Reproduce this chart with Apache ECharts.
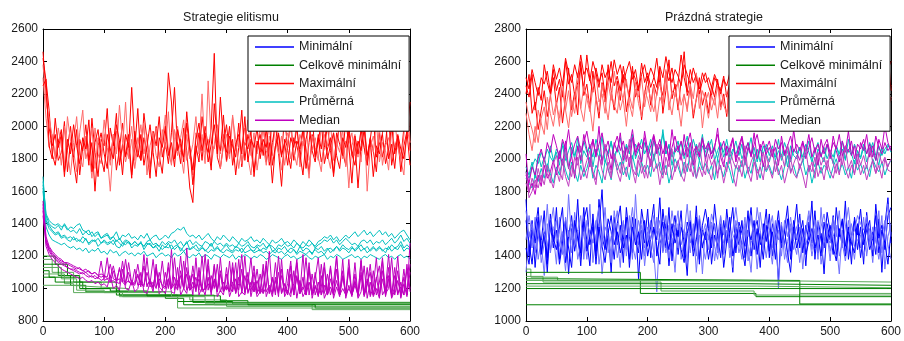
<!DOCTYPE html>
<html><head><meta charset="utf-8">
<script src="https://cdn.jsdelivr.net/npm/echarts@6/dist/echarts.min.js"></script>
<style>html,body{margin:0;padding:0;background:#fff}#c{width:904px;height:341px}</style>
</head><body><div id="c"></div>
<script>
// ---- titles / legend / ticks ----
const titles = ['Strategie elitismu', 'Prázdná strategie'];
const legendNames = ['Minimální', 'Celkově minimální', 'Maximální', 'Průměrná', 'Median'];
const xTicks = {min: 0, max: 600, interval: 100};
const yTicksLeft = {min: 800, max: 2600, interval: 200};
const yTicksRight = {min: 1000, max: 2800, interval: 200};

// ---- left chart (Strategie elitismu), values sampled every 5 generations ----
const L_max1 = [2460,2200,1990,1880,1950,1790,1840,2030,1720,1900, 1810,1980,1700,1870,1930,1760,2050,1840,1690,1920, 1880,2110,1790,1950,1730,1860,2020,1810,1900,1680, 1970,1840,1790,2080,1920,1750,1880,2000,1820,1710, 1940,2330,2150,1800,1900,1770,1990,1850,1620,1530, 1880,1780,2060,1900,1840,1990,2450,1810,1740,1890, 2010,1830,1920,1700,1870,2100,1790,1950,1860,1720, 1910,1840,2030,1780,1900,1650,1880,1960,1810,2070, 1850,1740,1930,1880,1790,2000,1860,1710,1950,1820, 1900,2040,1770,1860,1930,1690,1880,2010,1840,1760, 1970,1820,1900,1620,1880,2050,1790,1930,1850,1720, 1960,1810,1900,2080,1760,1870,1940,1800,1990,2250, 1850];
const L_max2 = [2300,2050,1870,1950,1800,1920,1760,2000,1850,1700, 1900,2060,1820,1750,1940,1860,1680,1990,1830,1770, 1950,1820,1600,1890,1970,1780,1860,2150,1800,1920, 1740,1880,2010,1830,1950,1720,1870,1990,1800,1910, 2070,1850,1760,1980,1820,1930,2040,1790,1880,1700, 1960,1870,2200,1840,1920,1760,1890,2010,1830,1950, 1780,1870,2060,1920,1740,1880,1990,1810,1700,1900, 1830,2000,1880,1760,1940,1820,2090,1870,1730,1900, 1960,1800,1880,2020,1750,1910,1850,1680,1940,1870, 1790,2010,1900,1830,1740,1960,1850,2070,1800,1910, 1620,1880,1950,1810,1990,1870,1760,1920,1840,2030, 1780,1900,1850,1730,1980,1870,1920,1790,1700,1990, 1900];
const L_max3 = [2420,2280,2100,1830,1760,1900,1980,1720,1870,2000, 1780,1650,1920,1850,2010,1790,1900,1600,1880,1960, 1830,1740,1990,1880,2080,1760,1890,1820,1950,1700, 1860,2110,1790,1930,1840,1680,1970,1880,2060,1810, 1900,1770,1960,2240,1850,1920,1780,2090,1870,1640, 1830,1960,1790,2000,1880,1730,2140,1910,1850,2070, 1790,1940,1880,1810,2020,1750,1900,1860,1970,1690, 1880,1950,1820,1990,1760,1900,2010,1840,1630,1920, 1870,2050,1790,1910,1860,1980,1740,1900,2080,1810, 1930,1780,1870,2000,1850,1710,1960,1890,1820,2040, 1880,1650,1940,1830,1980,1870,1760,1920,2060,1810, 1890,1950,1770,1860,2010,1830,1940,1720,1880,1970, 1760];
const L_max4 = [2380,2150,2050,1940,1820,1990,1870,1760,2060,1910, 1850,1720,1960,2100,1800,1880,1990,1740,1930,1820, 2040,1870,1760,1950,1830,2130,1900,1780,1860,2000, 1790,1930,1850,2020,1700,1880,1960,1820,1750,1980, 1860,2090,1780,1920,2000,1840,1710,1950,1800,1890, 2060,1830,1950,1770,2280,1900,1860,1990,1740,1880, 1950,1800,2070,1850,1930,1770,1890,2040,1820,1960, 1730,1880,1990,1850,1780,2060,1910,1830,1940,1760, 1900,1990,1840,1760,1950,1880,2030,1790,1860,1930, 1810,1720,1950,1880,2020,1790,1900,1840,1980,1750, 1890,1960,1820,1900,1780,2050,1600,1870,1940,1830, 1990,1760,1880,1930,1820,2040,1870,1790,1940,2320, 1900];
const L_max5 = [2250,2290,1880,1800,2050,1870,1950,1690,1920,1830, 2010,1880,1770,1930,1860,2040,1720,1900,1980,1810, 1720,1950,1860,1800,2010,1910,1700,1950,1870,2240, 1900,1810,1950,1760,1880,2010,1840,1690,1930,1870, 2000,1820,1900,1750,1980,1880,1810,2020,1860,1730, 1920,2020,1850,1960,1780,1890,2010,1830,2180,1900, 1840,2000,1760,1890,1950,1830,2060,1780,1920,1870, 1990,1800,1920,1870,2040,1760,1880,1950,1820,1900, 1760,1930,1870,1990,1830,1700,1920,2010,1850,1780, 1950,1860,2030,1800,1880,1960,1820,1740,1930,1870, 2000,1830,1760,1910,1850,1980,1820,1920,1690,1880, 1830,1960,2050,1800,1890,1740,1950,1860,1800,1950, 2150];
const L_avg1 = [1690,1420,1370,1350,1330,1340,1310,1320,1300,1290, 1320,1290,1300,1280,1310,1270,1290,1300,1260,1280, 1290,1270,1280,1300,1260,1250,1280,1270,1290,1250, 1270,1260,1290,1240,1270,1280,1250,1260,1230,1270, 1250,1280,1240,1260,1270,1230,1260,1290,1240,1250, 1270,1240,1260,1230,1250,1280,1240,1260,1230,1250, 1270,1240,1230,1260,1250,1220,1250,1270,1240,1230, 1260,1230,1250,1240,1270,1230,1220,1250,1240,1260, 1230,1250,1240,1220,1260,1230,1250,1240,1210,1250, 1240,1260,1230,1250,1220,1240,1260,1230,1250,1240, 1220,1250,1240,1260,1230,1250,1220,1240,1260,1230, 1250,1240,1220,1260,1230,1250,1240,1270,1230,1250, 1240];
const L_avg2 = [1640,1450,1400,1380,1370,1390,1360,1400,1370,1350, 1360,1340,1370,1330,1350,1360,1320,1340,1350,1310, 1330,1340,1310,1320,1350,1300,1330,1320,1340,1310, 1320,1300,1330,1310,1340,1300,1320,1330,1300,1310, 1330,1310,1340,1350,1370,1360,1380,1340,1320,1330, 1310,1330,1300,1320,1340,1310,1290,1320,1300,1330, 1310,1290,1320,1300,1280,1310,1290,1300,1320,1290, 1300,1280,1310,1290,1270,1300,1280,1290,1310,1280, 1290,1270,1300,1280,1260,1290,1270,1300,1280,1260, 1290,1300,1320,1310,1330,1300,1320,1290,1310,1330, 1310,1330,1350,1320,1340,1360,1330,1350,1320,1340, 1360,1330,1350,1320,1340,1310,1330,1350,1360,1330, 1300];
const L_avg3 = [1600,1380,1330,1300,1290,1280,1270,1280,1260,1250, 1260,1240,1250,1230,1250,1220,1240,1230,1250,1220, 1230,1210,1240,1220,1230,1200,1220,1230,1210,1220, 1200,1220,1210,1230,1200,1210,1220,1190,1210,1220, 1200,1210,1190,1220,1200,1210,1230,1200,1190,1210, 1200,1220,1190,1210,1200,1180,1210,1200,1190,1210, 1200,1190,1210,1180,1200,1190,1210,1200,1180,1200, 1190,1210,1200,1180,1190,1210,1200,1190,1180,1200, 1210,1190,1200,1180,1190,1200,1210,1190,1180,1200, 1190,1200,1210,1180,1200,1190,1210,1200,1180,1190, 1200,1210,1190,1200,1180,1200,1190,1210,1200,1190, 1180,1200,1210,1190,1200,1180,1200,1210,1190,1200, 1180];
const L_avg4 = [1620,1420,1390,1360,1340,1350,1320,1330,1310,1320, 1300,1310,1290,1320,1300,1280,1300,1290,1310,1280, 1300,1280,1290,1270,1300,1280,1260,1290,1280,1270, 1290,1270,1280,1260,1290,1300,1270,1280,1260,1290, 1270,1290,1280,1300,1270,1290,1260,1280,1300,1270, 1290,1270,1260,1290,1280,1260,1290,1270,1280,1260, 1280,1260,1270,1250,1280,1260,1270,1290,1260,1250, 1270,1260,1280,1250,1270,1260,1240,1270,1260,1280, 1260,1270,1250,1280,1260,1250,1270,1260,1280,1250, 1270,1280,1300,1290,1310,1280,1300,1270,1290,1310, 1290,1270,1280,1260,1290,1300,1280,1300,1270,1290, 1280,1300,1270,1290,1310,1280,1300,1330,1290,1310, 1280];
const L_avg5 = [1660,1460,1420,1400,1390,1400,1380,1390,1360,1380, 1370,1390,1400,1360,1350,1330,1350,1320,1340,1310, 1320,1330,1300,1320,1290,1310,1280,1300,1290,1270, 1290,1270,1280,1260,1280,1270,1250,1270,1260,1240, 1260,1250,1270,1240,1260,1250,1230,1250,1240,1260, 1240,1230,1250,1240,1220,1240,1230,1250,1230,1220, 1240,1230,1220,1240,1230,1250,1220,1230,1240,1220, 1230,1240,1220,1230,1210,1230,1240,1220,1230,1210, 1230,1220,1240,1210,1230,1220,1210,1230,1220,1240, 1220,1230,1210,1240,1250,1230,1260,1240,1270,1250, 1240,1260,1230,1250,1270,1240,1260,1230,1250,1240, 1260,1230,1250,1240,1270,1250,1260,1290,1250,1270, 1250];
const L_med1 = [1540,1300,1250,1220,1200,1180,1170,1160,1150,1140, 1130,1120,1130,1110,1100,1110,1090,1100,1080,1090, 1080,1070,1150,1060,1050,1120,1050,1040,1100,1030, 1040,1150,1030,1020,1100,1030,1180,1010,1060,1020, 1010,1130,1000,1070,1010,1200,1000,1090,990,1140, 1000,1060,990,1210,990,1080,1000,1150,980,1040, 990,1170,980,1060,990,1120,980,1030,1190,980, 1050,970,1110,980,1020,970,1160,980,1080,970, 1120,970,1030,1180,970,1070,960,1130,970,1010, 960,1150,970,1090,960,1040,1200,960,1080,970, 1130,960,1020,960,1170,970,1060,960,1110,960, 1040,1190,960,1080,960,1130,970,1010,960,1150, 980];
const L_med2 = [1450,1280,1230,1200,1180,1160,1150,1140,1130,1120, 1110,1100,1090,1100,1080,1070,1080,1060,1070,1050, 1060,1190,1040,1050,1030,1130,1040,1020,1160,1030, 1020,1090,1010,1210,1010,1060,1000,1130,1010,990, 1100,1000,1240,990,1050,1000,1170,990,1020,1090, 980,1130,990,1000,1180,980,1060,990,1110,980, 1020,980,1160,970,1070,990,1200,970,1040,980, 1120,970,1000,1170,970,1060,980,1100,970,1030, 970,1140,960,1080,970,1210,960,1040,970,1100, 960,1010,1160,960,1060,970,1120,960,1000,960, 1180,960,1050,970,1100,950,1020,1150,960,1070, 960,1110,970,1000,1190,960,1050,960,1120,960, 1280];
const L_med3 = [1500,1260,1210,1180,1160,1140,1120,1110,1100,1090, 1080,1070,1060,1070,1050,1040,1050,1030,1040,1020, 1030,1010,1080,1000,1020,990,1120,1000,990,1050, 980,1000,1100,980,970,1040,980,1150,970,990, 970,1060,980,970,1130,960,1000,970,1080,960, 1190,960,1010,960,1070,960,1140,950,990,960, 1090,950,1010,1160,950,980,960,1100,950,1040, 950,980,1150,950,1010,950,1070,950,1180,950, 990,950,1110,940,1050,950,990,1160,940,1020, 950,1080,940,990,1130,940,1010,950,1180,940, 1020,950,1090,940,980,1140,940,1040,950,1000, 940,1170,950,1060,940,990,1110,940,1030,950, 1100];
const L_med4 = [1480,1290,1240,1210,1190,1170,1160,1150,1130,1120, 1120,1110,1100,1090,1100,1080,1070,1080,1060,1170, 1050,1060,1040,1110,1040,1030,1170,1030,1050,1020, 1120,1020,1030,1010,1190,1010,1040,1000,1100,1010, 1000,1160,1000,1030,990,1110,1000,1250,990,1040, 990,1100,980,1000,1140,980,1050,980,1190,980, 1010,980,1130,970,1030,1210,970,1060,980,1100, 970,1010,970,1140,970,1070,960,1200,970,1030, 960,1090,960,1160,970,1010,960,1120,960,1060, 1190,960,1020,960,1140,970,1050,960,1110,960, 1000,960,1160,950,1080,960,1130,950,1010,1190, 950,1060,960,1130,950,1010,1200,950,1070,960, 1150];
const L_med5 = [1520,1320,1260,1230,1210,1190,1180,1160,1160,1150, 1140,1130,1120,1110,1120,1100,1090,1100,1080,1070, 1080,1060,1070,1140,1050,1060,1040,1180,1040,1030, 1030,1080,1020,1140,1020,1050,1010,1110,1010,1170, 1010,1060,1000,1190,1000,1080,1000,1130,990,1010, 1070,990,1200,990,1030,990,1150,980,1090,980, 1130,980,1040,980,1180,970,1080,980,1020,1140, 970,1090,970,1010,1230,970,1050,970,1120,970, 1030,1170,960,1070,970,1000,1190,960,1090,960, 1040,960,1130,960,1010,960,1200,960,1070,960, 1120,960,1040,960,1180,960,1030,1100,960,1060, 1140,960,1000,1210,960,1080,960,1040,960,1120, 1000];
// overall-minimum step runs: [generation, value] breakpoints
const L_best = [
  [[0,1200],[20,1150],[40,1080],[60,1000],[120,960],[220,920],[310,905],[600,905]],
  [[0,1180],[15,1100],[50,1040],[95,1000],[125,950],[240,930],[300,890],[600,890]],
  [[0,1150],[25,1080],[45,1020],[70,980],[200,940],[230,900],[445,880],[600,880]],
  [[0,1130],[30,1060],[55,990],[100,975],[190,960],[280,900],[440,870],[600,870]],
  [[0,1110],[10,1070],[60,1040],[120,990],[125,960],[245,915],[600,915]],
  [[0,1090],[35,1030],[50,975],[130,950],[220,880],[600,880]],
  [[0,1070],[20,1040],[65,1000],[110,985],[170,955],[290,925],[335,900],[600,900]],
  [[0,1020],[45,1010],[90,1000],[140,980],[210,950],[265,910],[600,910]]
];

// ---- right chart (Prázdná strategie) ----
const R_max1 = [2400,2520,2280,2350,2180,2300,2420,2260,2380,2500, 2330,2440,2220,2380,2560,2300,2410,2270,2600,2390, 2460,2310,2540,2380,2250,2470,2350,2580,2420,2300, 2480,2360,2520,2290,2410,2570,2380,2450,2240,2400, 2510,2330,2460,2390,2550,2280,2420,2610,2370,2460, 2300,2480,2660,2390,2440,2250,2370,2500,2330,2410, 2280,2450,2380,2490,2320,2400,2260,2470,2350,2430, 2300,2420,2370,2480,2330,2250,2400,2460,2350,2290, 2420,2360,2480,2310,2390,2440,2270,2380,2500,2340, 2410,2280,2450,2370,2330,2490,2390,2260,2430,2350, 2470,2310,2400,2360,2520,2290,2420,2380,2250,2440, 2370,2480,2320,2410,2560,2340,2450,2300,2390,2660, 2420];
const R_max2 = [2350,2250,2180,2100,2300,2220,2150,2380,2280,2200, 2340,2250,2420,2300,2190,2360,2280,2450,2310,2230, 2400,2320,2170,2380,2290,2460,2350,2240,2410,2330, 2280,2440,2360,2200,2390,2310,2470,2340,2260,2420, 2370,2290,2450,2230,2380,2330,2500,2360,2270,2410, 2340,2200,2390,2310,2450,2280,2370,2420,2190,2350, 2410,2300,2380,2250,2440,2330,2280,2400,2360,2220, 2390,2320,2450,2270,2350,2410,2290,2380,2210,2340, 2300,2420,2350,2260,2400,2330,2190,2370,2450,2290, 2360,2240,2410,2320,2380,2200,2350,2430,2300,2370, 2250,2400,2340,2290,2450,2330,2210,2380,2310,2420, 2280,2350,2400,2230,2360,2310,2440,2270,2390,2300, 2380];
const R_max3 = [2450,2380,2520,2300,2440,2360,2580,2470,2400,2550, 2420,2490,2380,2600,2460,2520,2390,2470,2560,2430, 2640,2490,2410,2560,2470,2530,2390,2480,2600,2450, 2510,2420,2570,2460,2380,2540,2490,2420,2590,2470, 2530,2440,2500,2620,2460,2390,2540,2480,2560,2430, 2470,2640,2500,2410,2550,2470,2520,2400,2480,2530, 2450,2390,2500,2460,2420,2510,2380,2470,2440,2520, 2400,2480,2450,2370,2500,2430,2470,2390,2510,2440, 2460,2400,2520,2430,2380,2490,2450,2410,2530,2440, 2380,2470,2420,2500,2440,2390,2480,2430,2510,2400, 2450,2520,2410,2480,2370,2460,2500,2420,2390,2470, 2430,2510,2400,2460,2540,2420,2480,2390,2600,2500, 2450];
const R_max4 = [2280,2150,2050,2200,2100,2250,2320,2180,2400,2270, 2350,2200,2480,2300,2420,2260,2380,2530,2310,2450, 2370,2290,2440,2520,2350,2400,2280,2470,2360,2540, 2420,2300,2380,2490,2340,2260,2430,2380,2500,2320, 2450,2370,2290,2400,2470,2350,2550,2300,2420,2380, 2480,2330,2400,2290,2460,2370,2530,2310,2420,2360, 2250,2390,2330,2450,2300,2380,2410,2240,2360,2440, 2330,2400,2280,2370,2440,2310,2380,2260,2420,2350, 2400,2300,2370,2460,2280,2390,2350,2450,2310,2380, 2340,2420,2290,2380,2460,2310,2400,2350,2270,2420, 2380,2300,2450,2340,2400,2260,2370,2430,2330,2390, 2310,2420,2360,2470,2290,2400,2350,2440,2500,2420, 2360];
const R_max5 = [2500,2430,2550,2470,2390,2500,2460,2540,2410,2580, 2490,2560,2450,2620,2530,2470,2580,2500,2640,2520, 2560,2480,2600,2530,2440,2580,2500,2550,2470,2610, 2520,2580,2470,2540,2600,2490,2550,2430,2520,2580, 2480,2560,2510,2440,2570,2500,2630,2530,2470,2550, 2510,2450,2580,2520,2460,2560,2490,2430,2530,2470, 2500,2440,2520,2470,2400,2490,2450,2530,2420,2480, 2460,2400,2490,2430,2510,2450,2380,2470,2420,2500, 2430,2490,2400,2460,2510,2420,2470,2390,2450,2500, 2460,2410,2490,2430,2380,2470,2440,2500,2420,2460, 2430,2490,2400,2450,2510,2420,2470,2390,2460,2500, 2450,2400,2480,2430,2560,2470,2520,2440,2490,2550, 2600];
const R_avg1 = [1950,1900,1980,1880,2030,1950,2010,1920,2080,1990, 2040,1960,2100,2020,1940,2070,2000,2130,1970,2050, 2010,2090,1950,2060,2000,2140,1980,2040,2110,1990, 2070,2020,1960,2090,2030,2150,2000,2060,1980,2100, 2040,2120,1990,2070,2020,2180,2030,2080,1960,2050, 2110,2000,2070,2140,2020,1980,2090,2040,2150,2010, 2060,2120,1990,2050,2100,2010,2070,1970,2040,2110, 2020,2090,1960,2050,2130,2000,2060,1980,2080,2030, 1980,2060,2010,2120,1990,2050,1950,2080,2020,2000, 2070,1980,2040,2110,2000,1950,2060,2020,1980,2090, 2030,1970,2080,2010,2060,1990,2120,2030,1970,2050, 2010,2090,1980,2040,2100,2020,1960,2070,2030,2080, 2060];
const R_avg2 = [1880,1850,1820,1900,1860,1940,1880,1970,1910,1850, 1950,1900,2000,1930,1870,1980,1920,1860,1960,1890, 1940,2010,1880,1960,1920,1850,1990,1940,1870,2000, 1930,1980,1900,1950,1870,2020,1940,1890,1980,1920, 1960,1890,2030,1940,1980,1900,1960,1850,1930,2000, 1950,1890,1980,1920,2040,1950,1880,1990,1930,1970, 1910,1960,1870,2000,1940,1890,1980,1930,1850,1960, 1920,1990,1880,1950,1910,2010,1940,1880,1970,1920, 1960,1900,1990,1930,1870,1950,2020,1920,1960,1890, 1940,1990,1900,1960,1850,1930,1980,1910,1960,1940, 1880,1950,2000,1920,1970,1900,1950,1880,1990,1930, 1970,1910,1960,1890,2000,1950,1920,1980,1900,1960, 1990];
const R_avg3 = [1920,1880,1950,2000,1970,2040,1990,2060,2010,1980, 2060,2020,2080,1990,2050,2100,2020,2070,2000,2110, 2040,2080,2010,2120,2050,1990,2070,2030,2100,2020, 2060,2130,2010,2080,2040,2000,2090,2050,2120,2030, 2080,2020,2110,2040,2070,2150,2030,2090,2010,2060, 2040,2100,2000,2070,2030,2120,2050,1990,2080,2040, 2110,2030,2070,2000,2090,2040,2120,2010,2060,2030, 2080,2000,2050,2100,2020,2070,1980,2060,2030,2090, 2020,2080,1990,2050,2010,2100,2040,1980,2060,2030, 2070,2010,2090,2040,1980,2050,2100,2020,2070,2000, 2050,2010,2080,2030,2110,2000,2060,2020,2090,2040, 2000,2070,2030,2100,2040,1990,2080,2020,2060,2090, 2040];
const R_med1 = [2030,1800,1850,1780,1900,1830,1960,1880,1920,1990, 1900,2050,1960,2110,1940,2020,1880,2080,1990,2150, 2060,1950,2120,2010,2200,1970,2080,2030,1930,2100, 2040,2160,1990,2070,1950,2130,2020,2090,1980,2170, 2050,1960,2140,2030,2090,1940,2110,2000,2180,2040, 2080,1990,2150,2010,2100,1960,2070,2020,2130,1990, 2090,2000,2060,2190,2010,1950,2080,2040,2120,1980, 2050,2130,1990,2070,2020,2160,2000,2090,1950,2060, 2110,2020,2070,1960,2140,2030,2080,2000,2180,2040, 1990,2100,2050,2150,2010,2070,1960,2120,2030,2090, 2000,2140,2050,1980,2110,2040,2170,2020,2080,1970, 2100,2050,2150,2010,2080,1990,2120,2060,2200,2100, 2050];
const R_med2 = [1920,1760,1800,1870,1820,1900,1840,1960,1880,1820, 1930,1860,1990,1890,1830,1960,1900,2010,1870,1940, 1880,1990,1910,1840,2020,1930,1870,1980,1900,2030, 1920,1860,1970,1890,2010,1930,1850,1990,1910,1960, 1880,2000,1920,1970,1840,1950,1900,2020,1870,1940, 1990,1900,1860,1970,1920,2040,1880,1950,1890,2000, 1930,1870,1990,1910,1960,1850,1940,2010,1900,1830, 1960,1890,2000,1920,1860,1980,1910,1950,1870,2020, 1940,1880,1990,1900,1960,1850,1930,2000,1910,1880, 1970,1900,1820,1960,1920,2010,1890,1950,1870,1990, 1920,1880,1970,1900,2030,1940,1880,1960,1910,1990, 1900,1960,1870,1940,1990,1910,1960,1880,2000,1930, 1920];
const R_med3 = [1900,1850,1950,1900,2000,2060,1980,2100,2040,2150, 2080,2000,2120,2060,2180,2020,2090,2140,2040,2100, 2170,2060,2120,2020,2090,2160,2050,2110,2000,2080, 2140,2050,2110,2000,2070,2180,2040,2100,2060,2130, 2010,2080,2150,2060,2120,2030,2100,1990,2070,2140, 2050,2110,2020,2090,2160,2040,2080,2010,2120,2060, 2100,2030,2080,2150,2050,2110,2020,2070,2130,2000, 2080,2140,2040,2100,2010,2090,2150,2050,2110,2030, 2070,2010,2120,2060,2100,2020,2080,2140,2040,2090, 2050,2110,2000,2070,2130,2040,2090,2010,2080,2120, 2030,2100,2060,2150,2020,2080,2040,2110,2000,2090, 2060,2120,2030,2090,2010,2140,2070,2030,2100,2050, 2080];
const R_med4 = [1850,1790,1880,1820,1940,1860,2000,1910,1850,1970, 2020,1930,1870,2060,1950,1890,2010,1960,2080,1920, 1990,2050,1920,1870,2010,1960,2090,1930,1880,2030, 1970,1910,2050,1980,2120,1940,1900,2020,1960,1880, 2040,1950,2000,2090,1930,1880,2010,1950,2060,1920, 1980,2030,1910,2070,1960,1890,2020,2100,1950,1900, 2030,1960,2000,1880,2050,1970,1920,2060,1990,1940, 2010,1950,2080,1910,1980,2030,1870,1960,2040,1930, 1990,2060,1920,1980,2030,1950,2090,1910,1970,2020, 1940,2000,2060,1920,1980,1880,2040,1960,2010,1930, 2050,1970,1910,2020,1960,2080,1940,1990,1900,2030, 1960,2020,1940,2070,1980,1910,2040,1970,2010,1950, 2000];
const R_min1 = [1750,1400,1620,1330,1560,1480,1680,1350,1590,1450, 1700,1380,1530,1620,1290,1570,1460,1750,1400,1610, 1500,1340,1660,1430,1580,1810,1450,1550,1300,1640, 1470,1590,1360,1700,1520,1420,1630,1260,1560,1480, 1690,1390,1570,1500,1760,1430,1600,1340,1540,1650, 1410,1580,1490,1280,1620,1450,1710,1380,1560,1500, 1640,1350,1530,1460,1600,1420,1690,1510,1300,1580, 1470,1620,1390,1550,1700,1440,1570,1330,1600,1490, 1660,1400,1530,1250,1590,1470,1630,1380,1550,1720, 1450,1570,1340,1610,1480,1680,1420,1540,1290,1600, 1500,1650,1410,1570,1460,1740,1380,1530,1620,1440, 1580,1350,1670,1490,1550,1410,1630,1300,1590,1760, 1480];
const R_min2 = [1300,1550,1450,1640,1380,1500,1280,1600,1420,1530, 1350,1640,1480,1310,1560,1420,1670,1500,1380,1590, 1450,1720,1360,1530,1600,1290,1480,1570,1400,1680, 1520,1330,1610,1450,1560,1380,1780,1470,1590,1340, 1530,1620,1420,1180,1570,1460,1650,1390,1510,1300, 1600,1470,1550,1360,1680,1430,1520,1600,1290,1570, 1440,1590,1370,1520,1650,1410,1560,1480,1330,1620, 1500,1380,1570,1460,1300,1590,1430,1670,1520,1390, 1560,1450,1620,1200,1540,1470,1360,1600,1490,1410, 1580,1320,1530,1650,1440,1570,1380,1700,1460,1540, 1370,1600,1480,1290,1560,1430,1620,1500,1380,1570, 1450,1640,1400,1530,1360,1580,1470,1650,1320,1520, 1600];
const R_min3 = [1620,1480,1350,1560,1700,1420,1540,1390,1660,1510, 1440,1580,1700,1360,1520,1650,1430,1560,1340,1620, 1700,1470,1580,1400,1750,1520,1440,1630,1550,1380, 1600,1710,1450,1530,1380,1640,1500,1420,1690,1560, 1460,1580,1720,1400,1530,1610,1450,1700,1370,1590, 1520,1680,1390,1610,1540,1470,1640,1350,1590,1690, 1570,1450,1720,1530,1390,1620,1480,1560,1700,1420, 1610,1540,1460,1680,1400,1560,1620,1470,1530,1690, 1390,1600,1520,1680,1450,1560,1710,1430,1620,1500, 1660,1420,1590,1500,1740,1380,1610,1530,1450,1670, 1550,1410,1700,1520,1630,1460,1580,1350,1640,1530, 1690,1470,1560,1620,1400,1720,1510,1590,1440,1650, 1700];
const R_min4 = [1500,1650,1520,1430,1600,1360,1480,1720,1440,1570, 1620,1460,1550,1400,1780,1500,1600,1380,1480,1550, 1380,1560,1480,1620,1350,1490,1700,1420,1520,1600, 1390,1500,1560,1440,1650,1470,1380,1540,1620,1400, 1550,1450,1360,1640,1480,1530,1420,1590,1480,1560, 1680,1380,1500,1570,1420,1600,1300,1530,1470,1380, 1520,1610,1460,1380,1550,1480,1620,1390,1510,1560, 1420,1500,1640,1370,1480,1550,1320,1520,1450,1580, 1480,1350,1560,1500,1610,1380,1490,1570,1440,1530, 1360,1520,1470,1550,1400,1500,1620,1350,1480,1560, 1430,1520,1590,1400,1480,1370,1510,1600,1460,1500, 1530,1400,1480,1570,1440,1500,1380,1520,1620,1470, 1380];
const R_min5 = [1450,1350,1560,1480,1640,1410,1550,1300,1620,1490, 1560,1350,1480,1600,1450,1330,1620,1510,1420,1700, 1430,1520,1620,1350,1580,1460,1360,1540,1650,1470, 1550,1420,1500,1640,1330,1580,1470,1550,1380,1620, 1400,1510,1580,1460,1350,1690,1520,1440,1600,1480, 1560,1440,1360,1540,1610,1400,1500,1630,1450,1550, 1380,1520,1600,1440,1580,1330,1490,1640,1400,1500, 1580,1450,1340,1560,1500,1620,1410,1540,1380,1590, 1430,1550,1380,1620,1480,1560,1420,1300,1580,1450, 1530,1620,1410,1490,1570,1450,1530,1400,1610,1480, 1590,1460,1370,1540,1620,1400,1550,1480,1420,1600, 1390,1530,1600,1440,1510,1650,1420,1560,1480,1350, 1550];
const R_min6 = [1680,1520,1600,1420,1500,1650,1540,1460,1580,1700, 1480,1560,1410,1640,1520,1600,1460,1560,1650,1380, 1620,1540,1480,1600,1700,1460,1580,1520,1360,1560, 1680,1500,1620,1400,1560,1700,1490,1620,1530,1450, 1580,1500,1650,1540,1620,1420,1570,1500,1680,1550, 1450,1600,1540,1720,1480,1570,1400,1650,1530,1600, 1500,1660,1580,1420,1640,1530,1600,1450,1560,1700, 1540,1450,1600,1520,1650,1480,1700,1560,1440,1620, 1560,1650,1470,1560,1400,1620,1520,1640,1500,1580, 1620,1480,1560,1680,1500,1620,1440,1580,1660,1520, 1480,1640,1520,1680,1450,1580,1700,1520,1560,1650, 1600,1560,1650,1460,1580,1500,1680,1420,1560,1720, 1520];
const R_best = [
  [[0,1100],[600,1100]],
  [[0,1320],[8,1270],[52,1250],[370,1240],[600,1240]],
  [[0,1300],[188,1170],[378,1150],[600,1150]],
  [[0,1275],[28,1240],[222,1185],[375,1160],[600,1160]],
  [[0,1260],[52,1250],[450,1105],[600,1105]],
  [[0,1250],[190,1245],[450,1170],[600,1170]],
  [[0,1230],[365,1220],[600,1220]],
  [[0,1215],[380,1205],[600,1205]],
  [[0,1200],[600,1200]]
];

// ---- build ----
const COL = {
  min:['#0000ff','#7070ff'], best:['#008000','#5aaa5a'], max:['#ff0000','#ff6a6a'],
  avg:['#00bfbf','#00bfbf'], med:['#bf00bf','#c040c0']
};
function pts(arr){ const n = arr.length; return arr.map((v,i)=>[i*600/(n-1), v]); }
function line(name, color, data, gi, step){
  return {type:'line', name:name, xAxisIndex:gi, yAxisIndex:gi, data:data, showSymbol:false, symbol:'none',
    step:step, animation:false, silent:true, clip:true,
    lineStyle:{color:color, width:1}, itemStyle:{color:color}, emphasis:{disabled:true}};
}
const series = [];
// left (with elitism the per-generation minimum coincides with the overall minimum, green covers it)
L_best.forEach((r,i)=>series.push(line(legendNames[1], COL.best[i%2], r, 0, 'end')));
[L_max1,L_max2,L_max3,L_max4,L_max5].forEach((a,i)=>series.push(line(legendNames[2], COL.max[i%2], pts(a), 0, false)));
[L_avg1,L_avg2,L_avg3,L_avg4,L_avg5].forEach((a,i)=>series.push(line(legendNames[3], COL.avg[0], pts(a), 0, false)));
[L_med1,L_med2,L_med3,L_med4,L_med5].forEach((a,i)=>series.push(line(legendNames[4], COL.med[0], pts(a), 0, false)));
// right
[R_min1,R_min2,R_min3,R_min4,R_min5,R_min6].forEach((a,i)=>series.push(line(legendNames[0], COL.min[i%2], pts(a), 1, false)));
R_best.forEach((r,i)=>series.push(line(legendNames[1], COL.best[i%2], r, 1, 'end')));
[R_max1,R_max2,R_max3,R_max4,R_max5].forEach((a,i)=>series.push(line(legendNames[2], COL.max[i%2], pts(a), 1, false)));
[R_avg1,R_avg2,R_avg3].forEach((a,i)=>series.push(line(legendNames[3], COL.avg[0], pts(a), 1, false)));
[R_med1,R_med2,R_med3,R_med4].forEach((a,i)=>series.push(line(legendNames[4], COL.med[i%2], pts(a), 1, false)));

const TXT = '#1a1a1a', FONT = '"Liberation Sans", Arial, sans-serif';
function xAx(gi, top){
  return {gridIndex:gi, type:'value', position: top?'top':'bottom', min:xTicks.min, max:xTicks.max, interval:xTicks.interval,
    axisLine:{show:true, onZero:false, lineStyle:{color:'#000', width:1}},
    axisTick:{show:true, inside:true, length:4, lineStyle:{color:'#000'}},
    axisLabel:{show:!top, color:TXT, fontSize:12, fontFamily:FONT, margin:5, formatter:(v)=>String(v)},
    splitLine:{show:false}};
}
function yAx(gi, t, right){
  return {gridIndex:gi, type:'value', position: right?'right':'left', min:t.min, max:t.max, interval:t.interval,
    axisLine:{show:true, onZero:false, lineStyle:{color:'#000', width:1}},
    axisTick:{show:true, inside:true, length:4, lineStyle:{color:'#000'}},
    axisLabel:{show:!right, color:TXT, fontSize:12, fontFamily:FONT, margin:5, formatter:(v)=>String(v)},
    splitLine:{show:false}};
}
function legend(left){
  return {left:left, top:36, orient:'vertical', data:legendNames, icon:'rect', itemWidth:39, itemHeight:1.5,
    itemGap:4.3, backgroundColor:'#fff', borderColor:'#000', borderWidth:1, padding:[4,8,4,7],
    textStyle:{color:TXT, fontSize:12.5, fontFamily:FONT, lineHeight:14}, selectedMode:false, z:10};
}
const chart = echarts.init(document.getElementById('c'), null, {renderer:'canvas'});
chart.setOption({
  backgroundColor:'#fff',
  animation:false,
  title:[
    {text:titles[0], left:226, top:6, textAlign:'center', textStyle:{fontSize:12.5, fontWeight:'normal', color:TXT, fontFamily:FONT}},
    {text:titles[1], left:709, top:6, textAlign:'center', textStyle:{fontSize:12.5, fontWeight:'normal', color:TXT, fontFamily:FONT}}
  ],
  legend:[legend(248), legend(729)],
  grid:[
    {left:43, top:29, width:367, height:292, containLabel:false},
    {left:526, top:29, width:367, height:292, containLabel:false}
  ],
  xAxis:[xAx(0,false), xAx(1,false), xAx(0,true), xAx(1,true)],
  yAxis:[yAx(0,yTicksLeft,false), yAx(1,yTicksRight,false), yAx(0,yTicksLeft,true), yAx(1,yTicksRight,true)],
  series:series
});
</script></body></html>
